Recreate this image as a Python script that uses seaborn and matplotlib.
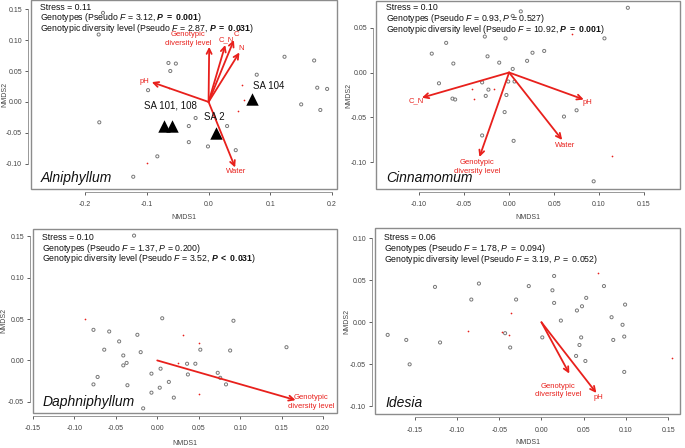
import numpy as np
import pandas as pd
import seaborn as sns
import matplotlib.pyplot as plt
from matplotlib.patches import Rectangle

sns.set_theme(style="white")
plt.rcParams['font.family'] = ['Liberation Sans', 'DejaVu Sans']
plt.rcParams['mathtext.fontset'] = 'custom'
plt.rcParams['mathtext.rm'] = 'Liberation Sans'
plt.rcParams['mathtext.it'] = 'Liberation Sans:italic'
plt.rcParams['mathtext.bf'] = 'Liberation Sans:bold'
plt.rcParams['mathtext.bfit'] = 'Liberation Sans:italic:bold'

RED = '#e8201c'
GDL = "Genotypic\ndiversity level"

# ---- Alniphyllum
aln_gray_x = [-0.171, -0.178, -0.065, -0.053, -0.062, -0.098, -0.177, -0.021, -0.032, 0.030, -0.032,
              -0.001, -0.083, -0.122, 0.044, 0.078, 0.123, 0.171, 0.176, 0.192, 0.150, 0.181]
aln_gray_y = [0.144, 0.109, 0.063, 0.062, 0.050, 0.019, -0.033, -0.026, -0.039, -0.039, -0.065,
              -0.072, -0.088, -0.121, -0.078, 0.044, 0.073, 0.067, 0.023, 0.021, -0.004, -0.013]
aln_red_x = [0.054, 0.058, 0.048, -0.100, -0.064]
aln_red_y = [0.028, 0.003, -0.014, -0.098, 0.022]
aln_sa_x = [-0.072, -0.059, 0.012, 0.070]
aln_sa_y = [-0.039, -0.039, -0.051, 0.004]
aln_sa_labels = ["SA 101, 108", "SA 2", "SA 104"]
aln_sa_label_pos = [(-0.062, -0.005), (0.010, -0.024), (0.097, 0.025)]
aln_vec_names = [GDL, "C_N", "C", "N", "pH", "Water"]
aln_vec_x = [0.001, 0.027, 0.041, 0.050, -0.092, 0.043]
aln_vec_y = [0.089, 0.092, 0.100, 0.080, 0.032, -0.106]
aln_vec_label_pos = [(-0.033, 0.102), (0.028, 0.1005), (0.045, 0.109), (0.053, 0.087),
                     (-0.104, 0.033), (0.045, -0.113)]

# ---- Cinnamomum
cin_gray_x = [0.004, 0.013, 0.132, 0.106, -0.070, -0.027, -0.004, -0.086, -0.024, 0.026, 0.039, 0.020,
              -0.011, 0.004, -0.062, -0.078, -0.030, -0.001, 0.006, -0.023, -0.026, -0.003, -0.063,
              -0.060, -0.005, 0.061, 0.075, -0.030, 0.005, 0.094]
cin_gray_y = [0.063, 0.068, 0.072, 0.038, 0.033, 0.040, 0.038, 0.021, 0.018, 0.022, 0.024, 0.013,
              0.011, 0.004, 0.010, -0.012, -0.011, -0.010, -0.010, -0.019, -0.026, -0.025, -0.029,
              -0.030, -0.044, -0.049, -0.042, -0.070, -0.076, -0.121]
cin_red_x = [-0.041, -0.017, -0.039, 0.114, 0.070]
cin_red_y = [-0.018, -0.018, -0.029, -0.093, 0.043]
cin_vec_names = ["C_N", "pH", "Water", GDL]
cin_vec_x = [-0.097, 0.083, 0.059, -0.033]
cin_vec_y = [-0.028, -0.030, -0.075, -0.094]
cin_vec_label_pos = [(-0.1035, -0.031), (0.087, -0.033), (0.0625, -0.081), (-0.0355, -0.105)]

# ---- Daphniphyllum
dap_gray_x = [-0.028, 0.006, 0.092, -0.077, -0.058, -0.024, -0.046, -0.064, -0.020, 0.052, 0.088, 0.156,
              -0.041, -0.037, -0.041, 0.036, 0.046, 0.004, -0.007, 0.037, 0.073, 0.076, 0.083, 0.014,
              -0.072, -0.077, -0.036, 0.003, -0.007, 0.020, -0.017]
dap_gray_y = [0.151, 0.051, 0.048, 0.037, 0.035, 0.031, 0.023, 0.013, 0.010, 0.013, 0.012, 0.016,
              0.006, -0.003, -0.006, -0.004, -0.004, -0.010, -0.016, -0.017, -0.015, -0.021, -0.029,
              -0.026, -0.020, -0.029, -0.030, -0.033, -0.039, -0.045, -0.058]
dap_red_x = [-0.087, 0.031, 0.051, 0.025, 0.051]
dap_red_y = [0.050, 0.031, 0.021, -0.003, -0.041]
dap_vec_names = [GDL]
dap_vec_x = [0.167]
dap_vec_y = [-0.048]
dap_vec_label_pos = [(0.186, -0.050)]

# ---- Idesia
ide_gray_x = [-0.182, -0.160, -0.156, -0.126, -0.120, -0.083, -0.074, -0.030, -0.015, -0.043, -0.037,
              0.015, 0.013, 0.015, 0.023, 0.001, 0.053, 0.048, 0.042, 0.047, 0.045, 0.041, 0.052,
              0.074, 0.083, 0.096, 0.085, 0.098, 0.099, 0.098]
ide_gray_y = [-0.015, -0.021, -0.050, 0.042, -0.024, 0.027, 0.046, 0.027, 0.043, -0.013, -0.030,
              0.055, 0.038, 0.023, 0.002, -0.018, 0.029, 0.019, 0.014, -0.018, -0.027, -0.040, -0.046,
              0.043, 0.006, -0.003, -0.021, -0.017, 0.021, -0.059]
ide_red_x = [0.067, -0.036, -0.087, -0.047, -0.038, 0.154]
ide_red_y = [0.059, 0.011, -0.010, -0.011, -0.015, -0.043]
ide_vec_names = [GDL, "pH"]
ide_vec_x = [0.033, 0.065]
ide_vec_y = [-0.061, -0.084]
ide_vec_label_pos = [(0.020, -0.081), (0.067, -0.089)]

species = ["Alniphyllum", "Cinnamomum", "Daphniphyllum", "Idesia"]
stress = ["0.11", "0.10", "0.10", "0.06"]
geno_txt = [r"Genotypes (Pseudo $\it{F}$ = 3.12, $\mathbfit{P}\ \mathbf{=\ 0.001}$)",
            r"Genotypes (Pseudo $\it{F}$ = 0.93, $\it{P}$ = 0.527)",
            r"Genotypes (Pseudo $\it{F}$ = 1.37, $\it{P}$ = 0.200)",
            r"Genotypes (Pseudo $\it{F}$ = 1.78, $\it{P\ =\ 0.094}$)"]
gdl_txt = [r"Genotypic diversity level (Pseudo $\it{F}$ = 2.87, $\mathbfit{P}\ \mathbf{=\ 0.031}$)",
           r"Genotypic diversity level (Pseudo $\it{F}$ = 10.92, $\mathbfit{P}\ \mathbf{=\ 0.001}$)",
           r"Genotypic diversity level (Pseudo $\it{F}$ = 3.52, $\mathbfit{P}\ \mathbf{<\ 0.031}$)",
           r"Genotypic diversity level (Pseudo $\it{F}$ = 3.19, $\it{P\ =\ 0.052}$)"]

# layout (pixels of the 685x448 figure): left, top, right, bottom of plot box
boxes = [(31, 0.5, 337, 188.5), (376, 1.5, 680, 188.5), (33, 229, 337, 412.5), (375, 228, 680, 414)]
xlab_y = [217, 217, 443, 442]      # pixel row of "NMDS1"
ylab_x = [5, 349, 4, 347]          # pixel column of "NMDS2"
xlims = [(-0.2876, 0.208), (-0.148, 0.190), (-0.148, 0.217), (-0.197, 0.164)]
ylims = [(-0.140, 0.164), (-0.129, 0.079), (-0.063, 0.159), (-0.109, 0.112)]
xticks = [np.arange(-0.2, 0.21, 0.1), np.arange(-0.10, 0.16, 0.05),
          np.arange(-0.15, 0.21, 0.05), np.arange(-0.15, 0.16, 0.05)]
yticks = [np.arange(-0.10, 0.16, 0.05), np.arange(-0.10, 0.06, 0.05),
          np.arange(-0.05, 0.16, 0.05), np.arange(-0.10, 0.11, 0.05)]
xfmt = ["%.1f", "%.2f", "%.2f", "%.2f"]
txt_top = [6.7, 6.0, 8.3, 10.0]

panels = [
    (aln_gray_x, aln_gray_y, aln_red_x, aln_red_y, aln_vec_names, aln_vec_x, aln_vec_y, aln_vec_label_pos),
    (cin_gray_x, cin_gray_y, cin_red_x, cin_red_y, cin_vec_names, cin_vec_x, cin_vec_y, cin_vec_label_pos),
    (dap_gray_x, dap_gray_y, dap_red_x, dap_red_y, dap_vec_names, dap_vec_x, dap_vec_y, dap_vec_label_pos),
    (ide_gray_x, ide_gray_y, ide_red_x, ide_red_y, ide_vec_names, ide_vec_x, ide_vec_y, ide_vec_label_pos),
]

W, H = 685, 448
fig = plt.figure(figsize=(6.85, 4.48), dpi=100)

for i, (gx, gy, rx, ry, vn, vx, vy, vlab) in enumerate(panels):
    l, t, r, b = boxes[i]
    ax = fig.add_axes([l / W, 1 - b / H, (r - l) / W, (b - t) / H])
    sns.scatterplot(x=gx, y=gy, ax=ax, marker='o', s=5, facecolor='none',
                    edgecolor='#777777', linewidth=0.7, legend=False)
    sns.scatterplot(x=rx, y=ry, ax=ax, marker='o', s=1.5, color=RED, linewidth=0, legend=False)

    for name, x, y, (lx, ly) in zip(vn, vx, vy, vlab):
        ax.annotate("", xy=(x, y), xytext=(0, 0),
                    arrowprops=dict(arrowstyle='->', color=RED, lw=1.3, mutation_scale=9,
                                    shrinkA=0, shrinkB=0))
        ax.text(lx, ly, name, color=RED, fontsize=5.5, ha='center', va='center',
                linespacing=1.3)

    if i == 0:
        sns.scatterplot(x=aln_sa_x, y=aln_sa_y, ax=ax, marker='^', s=80, color='black',
                        linewidth=0, legend=False)
        for lab, (lx, ly) in zip(aln_sa_labels, aln_sa_label_pos):
            ax.text(lx, ly, lab, fontsize=7, ha='center', va='center', color='#111111')

    ax.set_xlim(*xlims[i])
    ax.set_ylim(*ylims[i])
    ax.set_xticks(xticks[i])
    ax.set_yticks(yticks[i])
    ax.set_xticklabels([xfmt[i] % v for v in xticks[i]])
    ax.set_yticklabels(["%.2f" % v for v in yticks[i]], rotation=90, va='center')
    ax.tick_params(axis='both', labelsize=5, colors='#444444', length=2.5, width=0.6,
                   direction='out', bottom=True, left=True, pad=4)
    ax.tick_params(axis='y', pad=1.5)
    for s in ['top', 'right']:
        ax.spines[s].set_visible(False)
    for s in ['left', 'bottom']:
        ax.spines[s].set_position(('outward', 2.5))
        ax.spines[s].set_color('#888888')
        ax.spines[s].set_linewidth(0.6)
    ax.spines['bottom'].set_bounds(xticks[i][0], xticks[i][-1])
    ax.spines['left'].set_bounds(yticks[i][0], yticks[i][-1])
    ax.add_patch(Rectangle((0, 0), 1, 1, transform=ax.transAxes, fill=False,
                           edgecolor='#8c8c8c', lw=1.0, clip_on=False, zorder=5))
    ax.set_xlabel("NMDS1", fontsize=5, color='#444444', va='center')
    ax.set_ylabel("NMDS2", fontsize=5, color='#444444', va='center')
    ax.xaxis.set_label_coords(0.5, (b - xlab_y[i]) / (b - t))
    ax.yaxis.set_label_coords((ylab_x[i] - l) / (r - l), 0.5)

    lines = ["Stress = " + stress[i], geno_txt[i], gdl_txt[i]]
    for k, line in enumerate(lines):
        ax.annotate(line, xy=(0, 1), xycoords='axes fraction',
                    xytext=(9.5, -txt_top[i] - 10.8 * k), textcoords='offset pixels',
                    fontsize=6.3, ha='left', va='center', color='#111111')
    ax.annotate(species[i], xy=(0, 0), xycoords='axes fraction', xytext=(10, 11),
                textcoords='offset pixels', fontsize=10, style='italic', ha='left',
                va='center', color='#111111')

fig.savefig("out.png", dpi=100)
